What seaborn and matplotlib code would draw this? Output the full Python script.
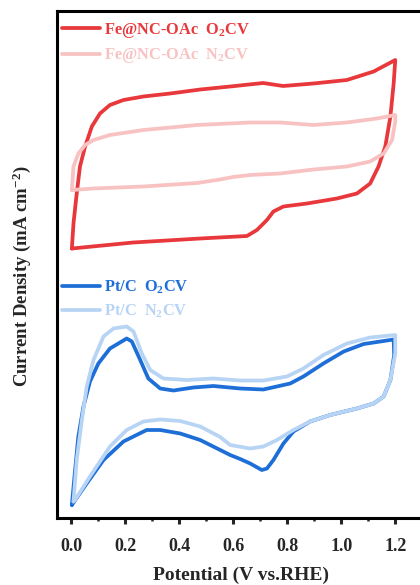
import matplotlib
matplotlib.use("Agg")
import matplotlib.pyplot as plt
import seaborn as sns
import pandas as pd
from matplotlib.ticker import MultipleLocator

sns.set_style("ticks")
plt.rcParams["font.family"] = ["Liberation Serif", "DejaVu Serif"]
plt.rcParams["font.weight"] = "bold"
plt.rcParams["mathtext.fontset"] = "custom"
plt.rcParams["mathtext.rm"] = "Liberation Serif:bold"
plt.rcParams["mathtext.it"] = "Liberation Serif:bold"
plt.rcParams["mathtext.bf"] = "Liberation Serif:bold"
plt.rcParams["mathtext.default"] = "rm"

# Cyclic voltammograms: potential (V vs. RHE) and current density (offset, arb.)
fe_o2_v = [0.003, 0.009, 0.021, 0.033, 0.052, 0.077, 0.107, 0.144, 0.194, 0.268, 0.367, 0.478,
           0.589, 0.711, 0.785, 0.897, 1.021, 1.120, 1.200,
           1.194, 1.182, 1.163, 1.138, 1.107, 1.058, 0.984, 0.873, 0.786, 0.749, 0.725, 0.688,
           0.651, 0.478, 0.230, 0.003]
fe_o2_j = [0.33, 0.83, 1.43, 1.97, 2.37, 2.77, 3.03, 3.20, 3.30, 3.37, 3.43, 3.51,
           3.57, 3.64, 3.58, 3.63, 3.70, 3.87, 4.10,
           3.63, 2.97, 2.37, 1.97, 1.63, 1.43, 1.33, 1.23, 1.17, 1.07, 0.90, 0.70,
           0.58, 0.53, 0.45, 0.33]

fe_n2_v = [0.003, 0.009, 0.027, 0.052, 0.083, 0.144, 0.268, 0.466, 0.663, 0.774, 0.897, 1.021,
           1.132, 1.200, 1.200, 1.188, 1.157, 1.107, 1.021, 0.897, 0.774, 0.663, 0.600, 0.540,
           0.466, 0.268, 0.082, 0.003]
fe_n2_j = [1.50, 1.97, 2.23, 2.40, 2.50, 2.60, 2.70, 2.80, 2.85, 2.85, 2.80, 2.85,
           2.93, 3.00, 2.87, 2.50, 2.23, 2.07, 1.97, 1.91, 1.83, 1.80, 1.76, 1.70,
           1.64, 1.57, 1.53, 1.50]

pt_o2_v = [0.003, 0.015, 0.027, 0.046, 0.070, 0.101, 0.144, 0.175, 0.206, 0.225, 0.256, 0.286,
           0.330, 0.379, 0.453, 0.527, 0.626, 0.712, 0.811, 0.860, 0.934, 1.009, 1.083, 1.194,
           1.196, 1.182, 1.157, 1.120, 1.058, 0.959, 0.885, 0.823, 0.786, 0.749, 0.725, 0.706,
           0.663, 0.626, 0.589, 0.552, 0.478, 0.404, 0.330, 0.280, 0.231, 0.194, 0.120, 0.058,
           0.003]
pt_o2_j = [-4.80, -4.10, -3.43, -2.83, -2.33, -1.97, -1.67, -1.57, -1.47, -1.53, -1.90, -2.27,
           -2.47, -2.51, -2.45, -2.42, -2.47, -2.49, -2.37, -2.23, -1.97, -1.73, -1.58, -1.49,
           -1.80, -2.30, -2.63, -2.77, -2.87, -3.00, -3.13, -3.33, -3.57, -3.90, -4.07, -4.10,
           -3.97, -3.88, -3.80, -3.70, -3.50, -3.37, -3.30, -3.30, -3.43, -3.53, -3.90, -4.37,
           -4.80]

pt_n2_v = [0.009, 0.021, 0.040, 0.058, 0.083, 0.120, 0.157, 0.206, 0.231, 0.262, 0.293, 0.342,
           0.429, 0.527, 0.626, 0.712, 0.799, 0.860, 0.934, 1.021, 1.107, 1.200,
           1.200, 1.182, 1.157, 1.120, 1.058, 0.959, 0.885, 0.823, 0.762, 0.712, 0.663, 0.589,
           0.552, 0.478, 0.404, 0.330, 0.268, 0.206, 0.144, 0.070, 0.015, 0.009]
pt_n2_j = [-4.73, -3.90, -3.10, -2.43, -1.90, -1.43, -1.27, -1.23, -1.33, -1.77, -2.10, -2.27,
           -2.30, -2.27, -2.31, -2.31, -2.23, -2.07, -1.80, -1.57, -1.45, -1.40,
           -1.77, -2.30, -2.63, -2.77, -2.87, -3.00, -3.13, -3.30, -3.50, -3.63, -3.67, -3.60,
           -3.44, -3.23, -3.12, -3.09, -3.13, -3.30, -3.63, -4.23, -4.70, -4.73]

labels = ["Fe@NC-OAc  O$_2$CV", "Fe@NC-OAc  N$_2$CV", "Pt/C  O$_2$CV", "Pt/C  N$_2$CV"]
colors = ["#E8383B", "#F8C2C2", "#1E6ED8", "#B8D4F5"]
x_ticks = [0.0, 0.2, 0.4, 0.6, 0.8, 1.0, 1.2]

fig = plt.figure(figsize=(4.2, 5.85), dpi=100)
ax = fig.add_axes([57 / 420, 1 - 518 / 585, 368 / 420, 507 / 585])

series = [(fe_o2_v, fe_o2_j), (fe_n2_v, fe_n2_j), (pt_o2_v, pt_o2_j), (pt_n2_v, pt_n2_j)]
lines = []
for (v, j), lab, col in zip(series, labels, colors):
    df = pd.DataFrame({"v": v, "j": j})
    sns.lineplot(data=df, x="v", y="j", sort=False, estimator=None, color=col,
                 linewidth=2.7, ax=ax, label=lab, legend=False,
                 solid_joinstyle="round", solid_capstyle="round")
    lines.append(ax.lines[-1])

ax.set_xlim(-0.052, 1.31)
ax.set_ylim(-5.06, 5.08)
ax.set_xticks(x_ticks)
ax.set_xticklabels([f"{t:.1f}" for t in x_ticks])
ax.xaxis.set_minor_locator(MultipleLocator(0.1))
ax.set_yticks([])
ax.tick_params(axis="x", which="major", direction="out", length=4, width=2.2,
               labelsize=13, pad=10.5)
ax.tick_params(axis="x", which="minor", direction="out", length=2.5, width=1.8)
for t in ax.get_xticklabels():
    t.set_fontweight("bold")
for s in ax.spines.values():
    s.set_linewidth(2.2)
    s.set_color("black")

ax.set_xlabel("Potential (V vs.RHE)", fontsize=14, fontweight="bold", labelpad=8.5)
ax.set_ylabel("Current Density (mA cm$^{-2}$)", fontsize=13.5, fontweight="bold")
ax.yaxis.set_label_coords(-24 / 368, (518 - 276) / 507)

leg_kw = dict(loc="upper left", frameon=False, handlelength=2.3, handletextpad=0.25,
              labelspacing=0.4, borderaxespad=0.0, borderpad=0.3,
              prop={"weight": "bold", "size": 11.8})

leg1 = ax.legend(handles=lines[:2], labels=labels[:2],
                 bbox_to_anchor=(0.0, 1 - 5 / 507), **leg_kw)
for t, c in zip(leg1.get_texts(), colors[:2]):
    t.set_color(c)
ax.add_artist(leg1)

leg2 = ax.legend(handles=lines[2:], labels=labels[2:],
                 bbox_to_anchor=(0.0, 1 - 263 / 507), **leg_kw)
for t, c in zip(leg2.get_texts(), colors[2:]):
    t.set_color(c)

fig.savefig("out.png", dpi=100)
